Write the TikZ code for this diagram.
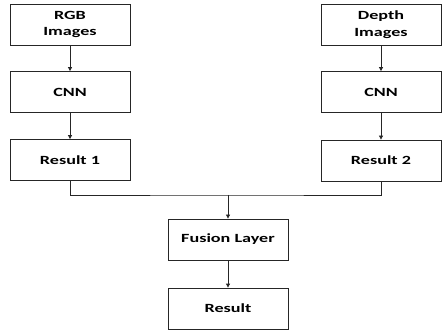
\documentclass[tikz,border=0pt]{standalone}
\usepackage{fontspec}
\setmainfont{Carlito}[FakeStretch=1.45]
\usetikzlibrary{arrows.meta}
\tikzset{
  stage/.style={draw=black!85, line width=0.8pt, minimum width=120pt, minimum height=41pt,
    inner sep=0pt, align=center, font=\fontsize{12.5}{16.5}\selectfont\bfseries},
  flow/.style={draw=black!85, line width=0.8pt},
  arrowflow/.style={flow, -{Triangle[length=4pt,width=4pt]}}
}
\begin{document}
\begin{tikzpicture}[x=1pt,y=-1pt]
  \useasboundingbox (0,0) rectangle (447,331);
  % left branch
  \node[stage] (rgb)  at (70,24.5)  {RGB\\Images};
  \node[stage] (cnn1) at (70,92)    {CNN};
  \node[stage] (res1) at (70,160)   {Result 1};
  % right branch
  \node[stage] (dep)  at (381,24.5) {Depth\\Images};
  \node[stage] (cnn2) at (381,92)   {CNN};
  \node[stage] (res2) at (381,160.5){Result 2};
  % fusion
  \node[stage] (fus)  at (228,239.5){Fusion Layer};
  \node[stage] (out)  at (228,308.5){Result};
  \coordinate (join) at (228,195);
  % connectors
  \draw[arrowflow] (rgb) -- (cnn1);
  \draw[arrowflow] (cnn1) -- (res1);
  \draw[arrowflow] (dep) -- (cnn2);
  \draw[arrowflow] (cnn2) -- (res2);
  \draw[flow] (res1.south) |- (join) -| (res2.south);
  \draw[arrowflow] (join) -- (fus.north);
  \draw[arrowflow] (fus) -- (out);
\end{tikzpicture}
\end{document}
